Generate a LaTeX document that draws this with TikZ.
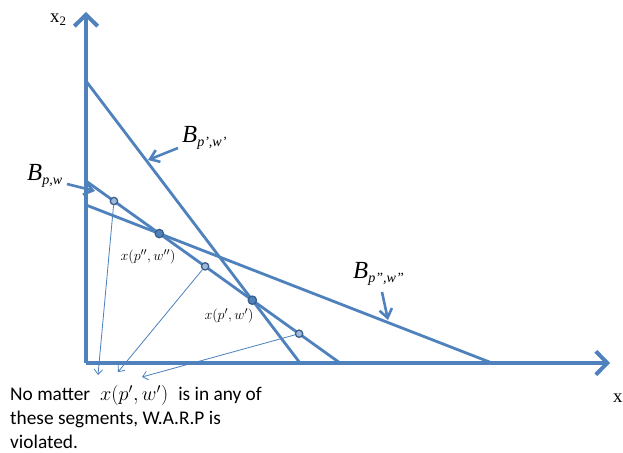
\documentclass[tikz,border=0pt]{standalone}
\usepackage{fontspec}
\setmainfont{Liberation Serif}
\newfontfamily\calibri{Carlito}
\usetikzlibrary{arrows.meta,calc}
\definecolor{lineblue}{HTML}{4F81BD}
\definecolor{dotblue}{HTML}{385D8A}
\newcommand{\budget}[1]{\textit{B}\raisebox{-4pt}{\fontsize{12}{14}\selectfont\textit{#1}}}
\tikzset{
  axis/.style={draw=lineblue, line width=3.4pt, -{Straight Barb[length=3.4mm,width=7mm]}},
  budget/.style={draw=lineblue, line width=2.4pt},
  pointer/.style={draw=lineblue, line width=2.2pt, -{Straight Barb[length=2.6mm,width=3.8mm]}},
  mapto/.style={draw=lineblue, line width=.7pt, -{Straight Barb[length=1.5mm,width=2.6mm]}},
  dot/.style={circle, draw=dotblue, fill=lineblue, line width=1.1pt, inner sep=0pt, minimum size=2.5mm},
  opendot/.style={dot, fill=lineblue!55, minimum size=2.2mm},
  blabel/.style={font=\fontsize{21}{24}\selectfont, inner sep=0pt, anchor=base west},
  axlabel/.style={font=\fontsize{16}{18}\selectfont, inner sep=0pt, anchor=base west},
  ptlabel/.style={font=\fontsize{12.5}{14}\selectfont, inner sep=0pt}
}

\begin{document}
\begin{tikzpicture}[x=0.3mm,y=-0.3mm]
  \useasboundingbox (0,0) rectangle (623,452);

  % axes
  \coordinate (O) at (86,363);
  \coordinate (ytop) at (86,12);
  \coordinate (xend) at (610,363);
  \draw[axis] (O) -- (ytop);
  \draw[axis] (O) -- (xend);
  \node[axlabel] (x2lab) at (50,22) {x\raisebox{-3pt}{\fontsize{11}{12}\selectfont 2}};
  \node[axlabel] (x1lab) at (613,402) {x};

  % budget lines
  \coordinate (ptop) at (86,81);
  \coordinate (pbot) at (300,363);
  \coordinate (wtop) at (86,181);
  \coordinate (wbot) at (340,363);
  \coordinate (qtop) at (86,205);
  \coordinate (qbot) at (492,363);
  \draw[budget] (ptop) -- (pbot);
  \draw[budget] (wtop) -- (wbot);
  \draw[budget] (qtop) -- (qbot);

  % chosen bundles
  \node[dot] (xq) at (intersection of wtop--wbot and qtop--qbot) {};
  \node[dot] (xp) at (intersection of wtop--wbot and ptop--pbot) {};
  \node[opendot] (s1) at ($(wtop)!0.110!(wbot)$) {};
  \node[opendot] (s2) at ($(wtop)!0.469!(wbot)$) {};
  \node[opendot] (s3) at ($(wtop)!0.839!(wbot)$) {};
  \node[ptlabel] (xqlab) at (148,257) {$x(p'',w'')$};
  \node[ptlabel] (xplab) at (229,316) {$x(p',w')$};

  % budget labels
  \node[blabel] (lp) at (182,142) {\budget{p',w'}};
  \node[blabel] (lw) at (27,180) {\budget{p,w}};
  \node[blabel] (lq) at (353,278) {\budget{p",w"}};
  \coordinate (lpa) at (178,148);
  \coordinate (lpb) at (148,160);
  \coordinate (lwa) at (67,184);
  \coordinate (lwb) at (95,191);
  \coordinate (lqa) at (382,292);
  \coordinate (lqb) at (388,320);
  \draw[pointer] (lpa) -- (lpb);
  \draw[pointer] (lwa) -- (lwb);
  \draw[pointer] (lqa) -- (lqb);

  % segments to the note
  \coordinate (e1) at (98,375);
  \coordinate (e2) at (118,372);
  \coordinate (e3) at (142,377);
  \draw[mapto] (s1) -- (e1);
  \draw[mapto] (s2) -- (e2);
  \draw[mapto] (s3) -- (e3);

  \node[anchor=north west, inner sep=0pt, align=left,
    font=\calibri\fontsize{16.5}{20.6}\selectfont] (note) at (10,385)
    {No matter\hspace{3mm}$x(p',w')$\hspace{3mm}is in any of\\
     these segments, W.A.R.P is\\
     violated.};
\end{tikzpicture}
\end{document}
